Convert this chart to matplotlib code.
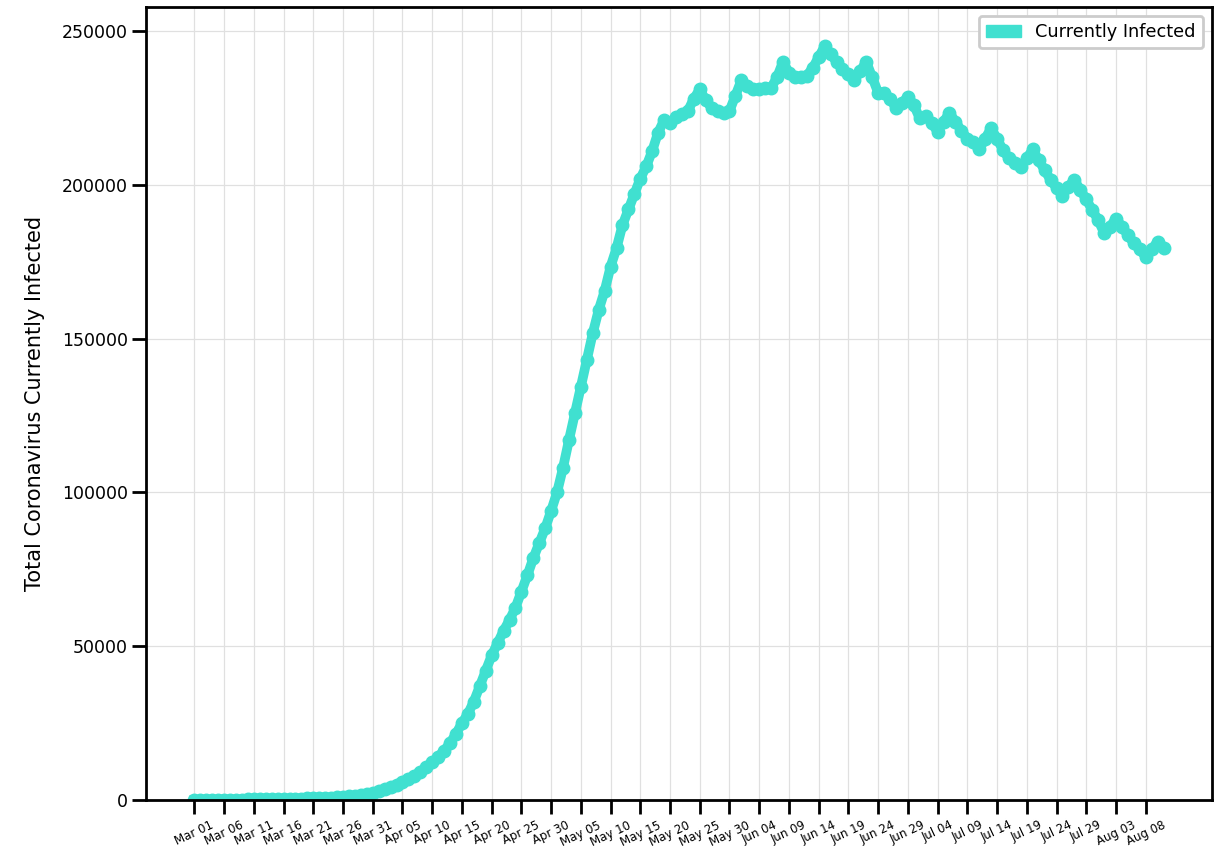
import pandas as pd
import matplotlib
matplotlib.use("Agg")
from matplotlib import pyplot as plt
import matplotlib.dates as mdates
from matplotlib.patches import Patch

# currently infected, in thousands, one value per day from Mar 01
infected_k = [
    0.05, 0.06, 0.07, 0.08, 0.1, 0.1, 0.12, 0.13, 0.15, 0.17,
    0.2, 0.22, 0.24, 0.27, 0.3, 0.33, 0.37, 0.4, 0.45, 0.5,
    0.55, 0.62, 0.7, 0.8, 0.9, 1.0, 1.2, 1.4, 1.7, 2.0,
    2.4, 2.9, 3.5, 4.2, 5.0, 5.9, 6.8, 7.9, 9.2, 10.6,
    12.2, 14, 16, 18.5, 21.5, 25, 28, 32, 37, 42,
    47, 51, 55, 58.5, 62.5, 67.7, 73, 78.6, 83.5, 88.3,
    94, 100, 108, 117, 125.7, 134.4, 143, 151.7, 159.3, 165.5,
    173.4, 179.4, 186.9, 192, 197, 202, 206, 211, 217, 221,
    220, 222, 223, 224, 228, 231, 227.5, 225, 224, 223.5,
    224, 229, 234, 232, 231, 231, 231.5, 231.5, 235, 240,
    236.5, 235, 235, 235.5, 238, 241.5, 245, 242.5, 240, 237.5,
    236, 234, 237, 240, 235, 230, 230, 228, 225, 226.5,
    228.6, 226, 221.6, 222.4, 220, 217.3, 220.5, 223.4, 220.5, 217.6,
    215, 213.8, 211.5, 215, 218.4, 215, 211.3, 208.6, 207, 205.9,
    208.6, 211.5, 208, 204.8, 201.6, 199, 196.4, 199.4, 201.6, 198.3,
    195.3, 191.8, 188.6, 184.4, 186.4, 189, 186.4, 183.7, 181, 179,
    176.6, 179, 181.5, 179.3,
]
dates = pd.date_range("2020-03-01", periods=len(infected_k), freq="D")
infected = [v * 1000 for v in infected_k]

color = "#40E0D0"

fig = plt.figure(figsize=(12.16, 8.58), dpi=100)
ax = fig.add_axes([0.120, 0.0676, 0.8767, 0.9242])

ax.plot(dates, infected, color=color, linewidth=7, marker="o", markersize=9)

ax.set_ylim(0, 257800)
ax.set_yticks([0, 50000, 100000, 150000, 200000, 250000])
ax.set_xticks(dates[::5])
ax.xaxis.set_major_formatter(mdates.DateFormatter("%b %d"))
plt.setp(ax.get_xticklabels(), rotation=25, fontsize=8.5)
ax.tick_params(axis="y", labelsize=12.5, pad=3)
ax.tick_params(length=10, width=2, direction="out")

ax.grid(True, color="#e0e0e0", linewidth=0.9)
ax.set_axisbelow(True)
for s in ax.spines.values():
    s.set_linewidth(2)
    s.set_color("black")

ax.set_ylabel("Total Coronavirus Currently Infected", fontsize=15, labelpad=12)

leg = ax.legend(handles=[Patch(color=color, label="Currently Infected")],
                loc="upper right", fontsize=12.8, fancybox=True, framealpha=1)
leg.get_frame().set_edgecolor("#cccccc")
leg.get_frame().set_linewidth(2)

fig.savefig("out.png", dpi=100)
